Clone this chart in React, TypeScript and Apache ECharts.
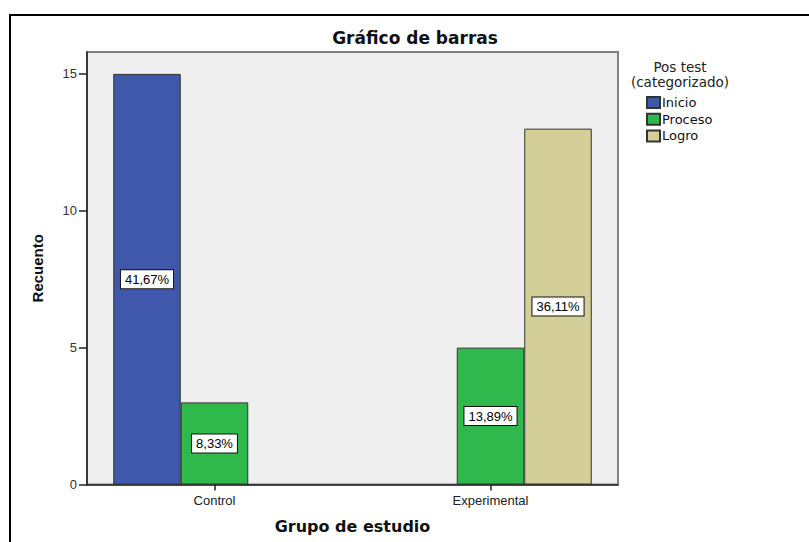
import React, { useEffect, useRef } from "react";
import * as echarts from "echarts";

const groups = ["Control", "Experimental"];
const seriesNames = ["Inicio", "Proceso", "Logro"];
const inicio: (number | null)[] = [15, null];
const proceso: (number | null)[] = [3, 5];
const logro: (number | null)[] = [null, 13];
const colors = ["#3F58AB", "#2FB84B", "#D4CF99"];
const yTicks = [0, 5, 10, 15];
const legendTitle = ["Pos test", "(categorizado)"];

const total = [...inicio, ...proceso, ...logro].reduce<number>((s, v) => s + (v ?? 0), 0);
const pct = (v: number) => ((v / total) * 100).toFixed(2).replace(".", ",") + "%";

export default function App() {
  const ref = useRef<HTMLDivElement>(null);
  useEffect(() => {
    document.body.style.margin = "0";
    const chart = echarts.init(ref.current!, undefined, { renderer: "svg" });
    const plotTop = 52;
    const plotH = 432.5;
    const data = [inicio, proceso, logro];
    chart.setOption({
      animation: false,
      backgroundColor: "#ffffff",
      title: [
        {
          text: "Gráfico de barras",
          left: 415,
          top: 29,
          padding: 0,
          textAlign: "center",
          textStyle: { fontFamily: "DejaVu Sans", fontWeight: "bold", fontSize: 17, color: "#111", lineHeight: 18 },
        },
        ...legendTitle.map((t, i) => ({
          text: t,
          left: 680,
          top: 60.5 + i * 14.5,
          padding: 0,
          textAlign: "center",
          textStyle: { fontFamily: "DejaVu Sans", fontWeight: "normal", fontSize: 13.5, lineHeight: 13.5, color: "#222" },
        })),
      ],
      legend: {
        orient: "vertical",
        left: 646,
        top: 96,
        padding: 0,
        itemWidth: 13,
        itemHeight: 11,
        itemGap: 3.7,
        icon: "rect",
        textStyle: { fontFamily: "DejaVu Sans", fontSize: 13, lineHeight: 11, color: "#111", padding: [0, 0, 0, -3] },
        data: seriesNames,
      },
      grid: [
        {
          left: 87,
          top: plotTop,
          width: 531,
          height: plotH,
          show: true,
          backgroundColor: "#EFEFEF",
          borderColor: "#808080",
          borderWidth: 2,
        },
        { left: 76.5, top: plotTop, width: 552, height: plotH },
      ],
      xAxis: [
        {
          gridIndex: 0,
          type: "value",
          min: 0,
          max: 1,
          axisLine: { show: true, lineStyle: { color: "#222", width: 1.5 } },
          axisTick: { show: false },
          axisLabel: { show: false },
          splitLine: { show: false },
        },
        {
          gridIndex: 1,
          type: "category",
          data: groups,
          axisLine: { show: false },
          axisTick: { show: true, alignWithLabel: true, length: 6, lineStyle: { color: "#222", width: 1.5 } },
          axisLabel: { fontFamily: "Liberation Sans", fontSize: 13, color: "#222", margin: 9 },
          name: "Grupo de estudio",
          nameLocation: "middle",
          nameGap: 34,
          nameTextStyle: { fontFamily: "DejaVu Sans", fontWeight: "bold", fontSize: 16, color: "#111" },
        },
      ],
      yAxis: [
        {
          gridIndex: 0,
          type: "value",
          min: 0,
          max: 15.8,
          interval: 5,
          axisLine: { show: true, lineStyle: { color: "#222", width: 1.5 } },
          axisTick: { show: true, length: 8, customValues: yTicks, lineStyle: { color: "#222", width: 1.5 } },
          axisLabel: { fontFamily: "Liberation Sans", fontSize: 13, color: "#333", margin: 10, customValues: yTicks },
          splitLine: { show: false },
          name: "Recuento",
          nameLocation: "middle",
          nameRotate: 90,
          nameGap: 42,
          nameTextStyle: { fontFamily: "Liberation Sans", fontWeight: "bold", fontSize: 15, color: "#111" },
        },
        {
          gridIndex: 1,
          type: "value",
          min: 0,
          max: 15.8,
          show: false,
        },
      ],
      series: seriesNames.map((name, i) => ({
        name,
        type: "bar",
        xAxisIndex: 1,
        yAxisIndex: 1,
        data: data[i],
        barWidth: 67.5,
        barGap: "0%",
        itemStyle: { color: colors[i], borderColor: "#333", borderWidth: 1 },
        label: {
          show: true,
          position: "inside",
          formatter: (p: any) => pct(p.value),
          fontFamily: "Liberation Sans",
          fontSize: 13,
          lineHeight: 13,
          color: "#000",
          backgroundColor: "#fff",
          borderColor: "#111",
          borderWidth: 1,
          padding: [3, 4, 2, 4],
        },
      })),
      graphic: [
        {
          type: "rect",
          shape: { x: 10, y: 15, width: 900, height: 700 },
          style: { fill: "none", stroke: "#000", lineWidth: 2 },
          silent: true,
          z: 100,
        },
      ],
    });
    return () => chart.dispose();
  }, []);
  return <div ref={ref} style={{ width: 809, height: 542 }} />;
}
